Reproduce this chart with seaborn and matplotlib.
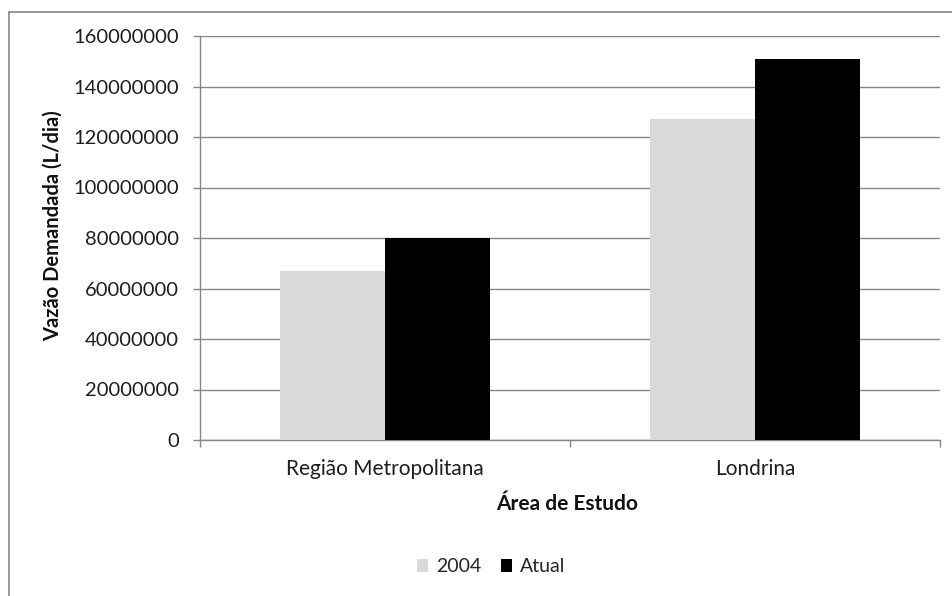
import matplotlib
matplotlib.use("Agg")
import matplotlib.pyplot as plt
from matplotlib.lines import Line2D
from matplotlib.patches import Patch
import pandas as pd
import seaborn as sns

categories = ["Região Metropolitana", "Londrina"]
series_names = ["2004", "Atual"]
values_2004 = [67000000, 127000000]
values_atual = [80000000, 151000000]
y_ticks = [0, 20000000, 40000000, 60000000, 80000000, 100000000, 120000000, 140000000, 160000000]

df = pd.DataFrame({
    "area": categories * 2,
    "serie": [series_names[0]] * len(categories) + [series_names[1]] * len(categories),
    "vazao": values_2004 + values_atual,
})

sns.set_theme(style="white")
plt.rcParams["font.family"] = ["Lato", "DejaVu Sans"]

W, H = 952, 596
fig = plt.figure(figsize=(W / 100, H / 100), dpi=100)
ax = fig.add_axes([200 / W, 1 - 440 / H, 740 / W, 404 / H])

palette = {"2004": "#d9d9d9", "Atual": "#000000"}
sns.barplot(data=df, x="area", y="vazao", hue="serie", hue_order=series_names,
            order=categories, palette=palette, width=0.57, gap=0,
            saturation=1, ax=ax, legend=False, linewidth=0, zorder=3)

grid_c = "#868686"
text_c = "#1e1e1e"
fs = 14.5
ax.set_ylim(0, 160000000)
ax.set_xlim(-0.5, 1.5)
ax.set_yticks(y_ticks)
ax.set_yticklabels([str(v) for v in y_ticks], fontsize=fs, color=text_c)
ax.yaxis.grid(True, color=grid_c, linewidth=1.0, zorder=0)
ax.set_axisbelow(True)

for side in ["top", "right"]:
    ax.spines[side].set_visible(False)
for side in ["left", "bottom"]:
    ax.spines[side].set_color(grid_c)
    ax.spines[side].set_linewidth(1.0)

ax.tick_params(axis="y", direction="out", length=5, width=1, color=grid_c, pad=10, left=True)
ax.set_xticks([0, 1])
ax.set_xticklabels(categories, fontsize=15, color=text_c)
ax.tick_params(axis="x", which="major", length=0, pad=14)
ax.set_xticks([-0.5, 0.5, 1.5], minor=True)
ax.tick_params(axis="x", which="minor", direction="out", length=5, width=1, color=grid_c, bottom=True)

ax.set_xlabel("Área de Estudo", fontsize=15, fontweight="bold", color="#111111")
ax.set_ylabel("Vazão Demandada (L/dia)", fontsize=14.5, fontweight="bold", color="#111111")
ax.xaxis.set_label_coords(0.496, -0.134)
ax.yaxis.set_label_coords(-0.186, 0.53)

handles = [Patch(facecolor=palette[s], edgecolor="none") for s in series_names]
fig.legend(handles, series_names, loc="center", bbox_to_anchor=(491 / W, 1 - 567 / H),
           ncol=2, frameon=False, fontsize=14, handlelength=0.6, handleheight=0.6,
           handletextpad=0.4, columnspacing=1.0, borderpad=0)

# chart area frame
fig.add_artist(Line2D([9 / W, 9 / W], [1 - 12 / H, 0], transform=fig.transFigure,
                      color=grid_c, linewidth=1.2))
fig.add_artist(Line2D([9 / W, 1], [1 - 12 / H, 1 - 12 / H], transform=fig.transFigure,
                      color=grid_c, linewidth=1.2))

fig.savefig("out.png", dpi=100, facecolor="white")
